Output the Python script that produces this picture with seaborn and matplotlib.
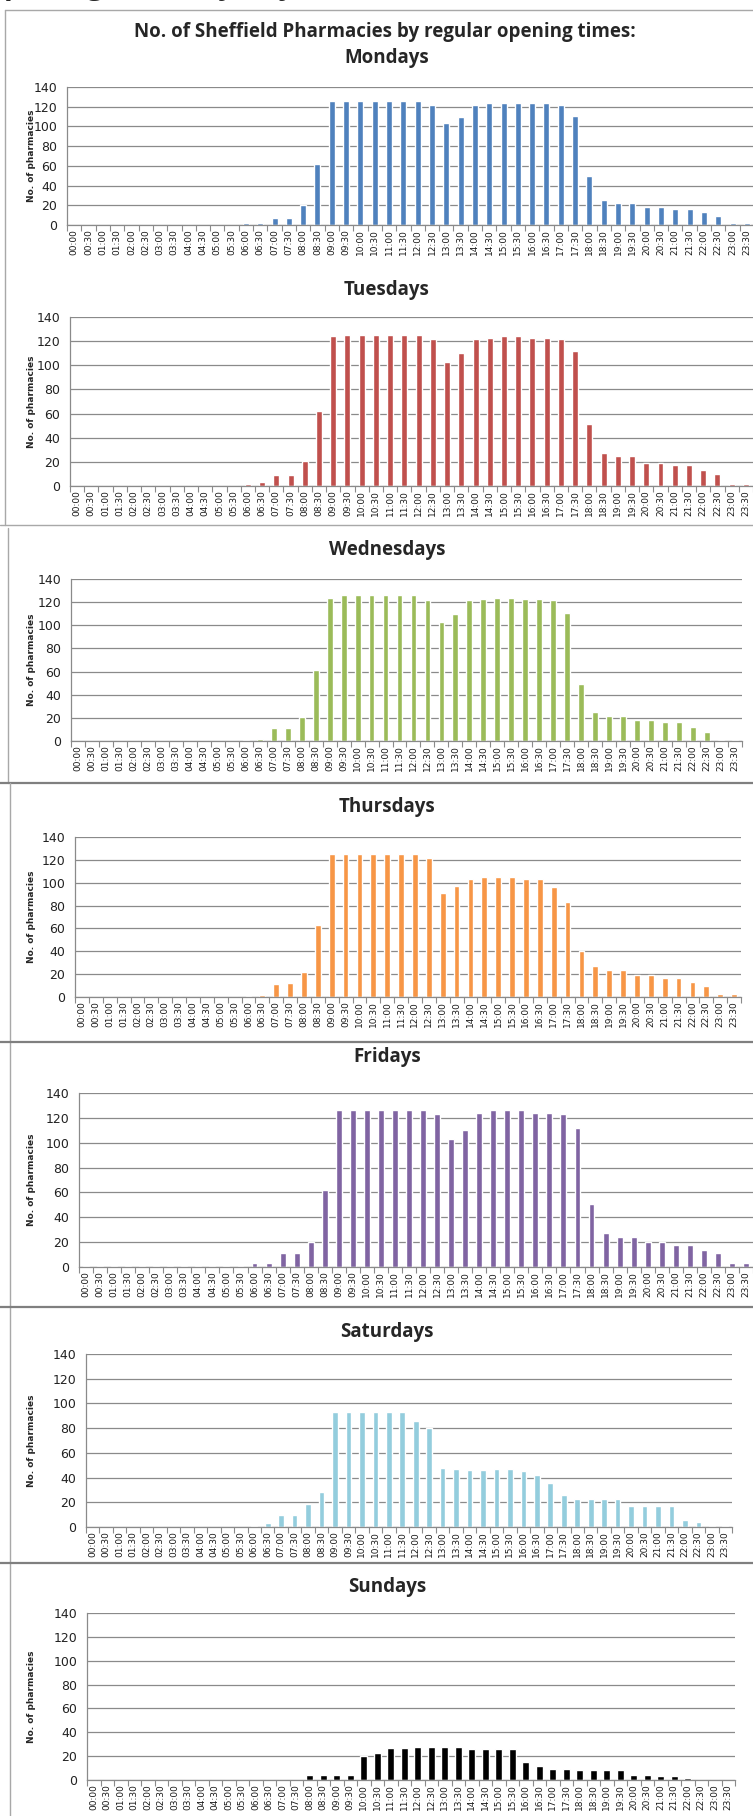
import matplotlib
matplotlib.use("Agg")
import matplotlib.pyplot as plt
from matplotlib.lines import Line2D
import seaborn as sns

# half-hour slots 00:00 .. 23:30
times = ['00:00', '00:30', '01:00', '01:30', '02:00', '02:30', '03:00', '03:30',
         '04:00', '04:30', '05:00', '05:30', '06:00', '06:30', '07:00', '07:30',
         '08:00', '08:30', '09:00', '09:30', '10:00', '10:30', '11:00', '11:30',
         '12:00', '12:30', '13:00', '13:30', '14:00', '14:30', '15:00', '15:30',
         '16:00', '16:30', '17:00', '17:30', '18:00', '18:30', '19:00', '19:30',
         '20:00', '20:30', '21:00', '21:30', '22:00', '22:30', '23:00', '23:30']

mondays = [0, 0, 0, 0, 0, 0, 0, 0, 0, 0, 0, 0,
           2, 2, 7, 7, 20, 62, 126, 126, 126, 126, 126, 126,
           126, 122, 103, 110, 122, 124, 124, 124, 124, 124, 122, 111,
           50, 25, 22, 22, 18, 18, 16, 16, 13, 9, 2, 2]
tuesdays = [0, 0, 0, 0, 0, 0, 0, 0, 0, 0, 0, 0,
            2, 3, 9, 9, 21, 62, 124, 125, 125, 125, 125, 125,
            125, 122, 103, 110, 122, 123, 124, 124, 123, 123, 122, 112,
            51, 27, 25, 25, 19, 19, 17, 17, 13, 10, 2, 2]
wednesdays = [0, 0, 0, 0, 0, 0, 0, 0, 0, 0, 0, 0,
              1, 2, 11, 11, 21, 61, 124, 126, 126, 126, 126, 126,
              126, 122, 103, 110, 122, 123, 124, 124, 123, 123, 122, 111,
              49, 25, 22, 22, 18, 18, 16, 16, 12, 8, 1, 1]
thursdays = [0, 0, 0, 0, 0, 0, 0, 0, 0, 0, 0, 0,
             1, 2, 11, 12, 22, 63, 125, 125, 125, 125, 125, 125,
             125, 122, 91, 97, 103, 105, 105, 105, 103, 103, 96, 83,
             40, 27, 24, 24, 19, 19, 17, 17, 13, 10, 3, 3]
fridays = [1, 1, 1, 1, 1, 1, 1, 1, 1, 1, 1, 1,
           3, 3, 11, 11, 20, 62, 126, 126, 126, 126, 126, 126,
           126, 123, 103, 110, 124, 126, 126, 126, 124, 124, 123, 112,
           51, 27, 24, 24, 20, 20, 18, 18, 14, 11, 3, 3]
saturdays = [0, 0, 0, 0, 0, 0, 0, 0, 0, 0, 0, 0,
             1, 3, 10, 10, 19, 28, 93, 93, 93, 93, 93, 93,
             86, 80, 48, 47, 46, 46, 47, 47, 45, 42, 36, 26,
             23, 23, 23, 23, 17, 17, 17, 17, 6, 4, 1, 1]
sundays = [0, 0, 0, 0, 0, 0, 0, 0, 0, 0, 0, 0,
           0, 0, 0, 0, 4, 4, 4, 4, 20, 23, 27, 27,
           28, 28, 28, 28, 26, 26, 26, 26, 15, 12, 9, 9,
           8, 8, 8, 8, 4, 4, 3, 3, 2, 0, 0, 0]

days = ['Mondays', 'Tuesdays', 'Wednesdays', 'Thursdays', 'Fridays', 'Saturdays', 'Sundays']
series = [mondays, tuesdays, wednesdays, thursdays, fridays, saturdays, sundays]
colors = ['#4F81BD', '#C0504D', '#9BBB59', '#F79646', '#8064A2', '#93CDDD', '#000000']
bar_widths = [0.42, 0.42, 0.42, 0.42, 0.42, 0.42, 0.5]

sns.set_theme(style="white")
plt.rcParams['font.family'] = ['Liberation Sans Narrow', 'DejaVu Sans']

W, H = 753, 1816
fig = plt.figure(figsize=(W / 100, H / 100), dpi=100)

# plot boxes in pixels: left, top (y=140), right, bottom (y=0)
boxes = [(67, 87, 754, 225), (70, 317, 753, 486), (71, 579, 742, 741),
         (75, 837, 741, 997), (79, 1093, 753, 1267), (86, 1354, 732, 1527),
         (87, 1613, 735, 1780)]
title_y = [58, 290, 550, 807, 1057, 1332, 1587]

title_font = ['Open Sans', 'DejaVu Sans']
grid_col = '#8a8a8a'

for day, vals, col, bw, (l, t, r, b), ty in zip(days, series, colors, bar_widths, boxes, title_y):
    ax = fig.add_axes([l / W, 1 - b / H, (r - l) / W, (b - t) / H])
    sns.barplot(x=times, y=vals, color=col, saturation=1, width=bw, ax=ax)
    ax.set_xlim(-0.5, len(times) - 0.5)
    ax.set_ylim(0, 140)
    ax.set_yticks(range(0, 141, 20))
    ax.yaxis.grid(True, color=grid_col, linewidth=0.9)
    ax.set_axisbelow(True)
    for s in ['top', 'right']:
        ax.spines[s].set_visible(False)
    ax.spines['left'].set_color(grid_col)
    ax.spines['bottom'].set_color(grid_col)
    ax.spines['left'].set_linewidth(0.9)
    ax.spines['bottom'].set_linewidth(0.9)
    ax.tick_params(axis='y', length=0, labelsize=9, pad=7, colors='#222222')
    ax.set_xticks(range(len(times)))
    ax.set_xticklabels(times, rotation=90, fontsize=6.5, color='#1a1a1a')
    ax.set_xticks([i - 0.5 for i in range(len(times) + 1)], minor=True)
    ax.tick_params(axis='x', which='major', length=0, pad=3)
    ax.tick_params(axis='x', which='minor', length=4, width=0.8, color=grid_col, bottom=True)
    ax.set_xlabel('')
    ax.set_ylabel('')
    fig.text(31 / W, 1 - ((t + b) / 2) / H, 'No. of pharmacies', rotation=90,
             ha='center', va='center', fontsize=6.5, fontweight='bold',
             family=['DejaVu Sans'])
    fig.text(387 / W, 1 - ty / H, day, ha='center', va='center',
             fontsize=13.5, fontweight='bold', family=title_font)

fig.text(385 / W, 1 - 32 / H, 'No. of Sheffield Pharmacies by regular opening times:',
         ha='center', va='center', fontsize=13.5, fontweight='bold', family=title_font)

# heading of the page, cut by the top edge (only descenders show)
fig.text(-14 / W, 1 + 6 / H, 'opening times by day of week in Sheffield',
         ha='left', va='baseline', fontsize=21, fontweight='bold', family=title_font)


def hline(y, x0, x1, color='#a8a8a8', lw=1.0):
    fig.add_artist(Line2D([x0 / W, x1 / W], [1 - y / H, 1 - y / H], color=color, linewidth=lw))


def vline(x, y0, y1, color='#a8a8a8', lw=1.0):
    fig.add_artist(Line2D([x / W, x / W], [1 - y0 / H, 1 - y1 / H], color=color, linewidth=lw))


# page frame lines around the charts
hline(10, 5, W)
vline(5, 10, 525)
hline(525, 0, W)
vline(8, 528, 783)
hline(783, 0, W, color='#7f7f7f', lw=1.6)
vline(10, 783, H)
hline(1042, 0, W, color='#7f7f7f', lw=1.6)
hline(1307, 0, W, color='#7f7f7f', lw=1.6)
hline(1563, 0, W, color='#7f7f7f', lw=1.6)

fig.savefig('out.png', dpi=100)
